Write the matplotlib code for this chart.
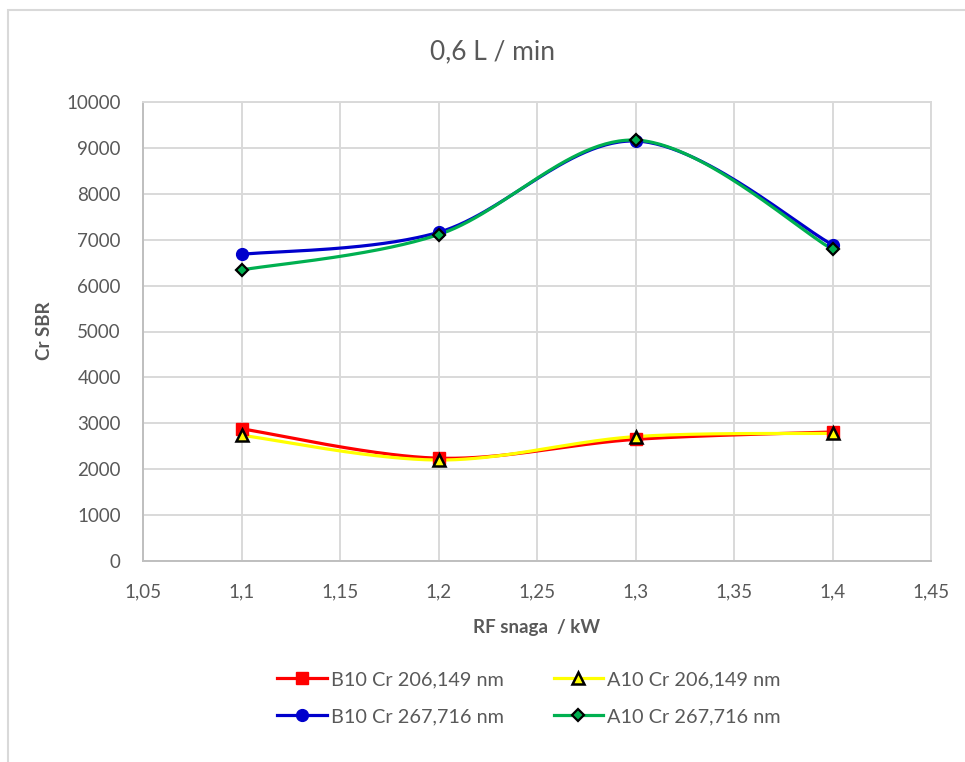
import numpy as np
import matplotlib
matplotlib.use("Agg")
import matplotlib.pyplot as plt
from matplotlib.ticker import FuncFormatter, MultipleLocator
from matplotlib.patches import Rectangle

plt.rcParams['font.family'] = ['Lato', 'DejaVu Sans']

# ---- data ----
rf_power = [1.1, 1.2, 1.3, 1.4]
b10_206 = [2880, 2240, 2650, 2810]
a10_206 = [2740, 2200, 2710, 2780]
b10_267 = [6680, 7160, 9150, 6890]
a10_267 = [6340, 7110, 9170, 6790]
series_labels = ["B10 Cr 206,149 nm", "A10 Cr 206,149 nm",
                 "B10 Cr 267,716 nm", "A10 Cr 267,716 nm"]
title = "0,6 L / min"
xlabel = "RF snaga  / kW"
ylabel = "Cr SBR"


def smooth(x, y, n=60):
    """Excel-like smoothed line (Catmull-Rom style cubic Bezier)."""
    x = np.asarray(x, float)
    y = np.asarray(y, float)
    P = np.column_stack([x, y])
    Pe = np.vstack([P[0], P, P[-1]])
    out = []
    t = np.linspace(0, 1, n)[:, None]
    for i in range(len(P) - 1):
        p0 = Pe[i + 1]
        p3 = Pe[i + 2]
        c1 = p0 + (Pe[i + 2] - Pe[i]) / 6.0
        c2 = p3 - (Pe[i + 3] - Pe[i + 1]) / 6.0
        seg = ((1 - t) ** 3) * p0 + 3 * ((1 - t) ** 2) * t * c1 + 3 * (1 - t) * t ** 2 * c2 + t ** 3 * p3
        out.append(seg if i == 0 else seg[1:])
    s = np.vstack(out)
    return s[:, 0], s[:, 1]


W, H = 965, 762
fig = plt.figure(figsize=(W / 100, H / 100), dpi=100)
fig.patch.set_facecolor('white')

# chart-area border (top and left visible)
fig.add_artist(Rectangle((8 / W, -0.1), 1.2, (1 - 10 / H) + 0.1, transform=fig.transFigure,
                         fill=False, edgecolor='#D9D9D9', linewidth=1.5))

left, right, top, bottom = 143, 931, 102, 561
ax = fig.add_axes([left / W, 1 - bottom / H, (right - left) / W, (bottom - top) / H])

gray_text = '#595959'
grid_c = '#D9D9D9'

ax.set_xlim(1.05, 1.45)
ax.set_ylim(0, 10000)
ax.xaxis.set_major_locator(MultipleLocator(0.05))
ax.yaxis.set_major_locator(MultipleLocator(1000))
ax.xaxis.set_major_formatter(FuncFormatter(lambda v, p: (f"{v:.2f}".rstrip('0').rstrip('.')).replace('.', ',')))
ax.yaxis.set_major_formatter(FuncFormatter(lambda v, p: f"{v:.0f}"))
ax.grid(True, color=grid_c, linewidth=1.4)
ax.set_axisbelow(True)
for s in ax.spines.values():
    s.set_color(grid_c)
    s.set_linewidth(1.4)
ax.spines['left'].set_color('#BFBFBF')
ax.spines['bottom'].set_color('#BFBFBF')
ax.tick_params(length=0, labelsize=13.5, labelcolor=gray_text)
ax.tick_params(axis='y', pad=16)
ax.tick_params(axis='x', pad=16)

styles = [
    dict(color='#FF0000', marker='s', mfc='#FF0000', mec='#FF0000', ms=8.5, mew=1),
    dict(color='#FFFF00', marker='^', mfc='#FFFF00', mec='#000000', ms=8.5, mew=1.8),
    dict(color='#0000CC', marker='o', mfc='#0000CC', mec='#0000CC', ms=8.5, mew=1),
    dict(color='#00B050', marker='D', mfc='#00B050', mec='#000000', ms=6.5, mew=1.6),
]
all_series = [b10_206, a10_206, b10_267, a10_267]
handles = []
for yv, st, lab in zip(all_series, styles, series_labels):
    sx, sy = smooth(rf_power, yv)
    ax.plot(sx, sy, color=st['color'], lw=2.3, solid_capstyle='round', zorder=3)
    ax.plot(rf_power, yv, ls='none', marker=st['marker'], mfc=st['mfc'], mec=st['mec'],
            ms=st['ms'], mew=st['mew'], zorder=4)
    h, = ax.plot([], [], color=st['color'], lw=2.3, marker=st['marker'], mfc=st['mfc'],
                 mec=st['mec'], ms=st['ms'], mew=st['mew'], label=lab)
    handles.append(h)

fig.text(492 / W, 1 - 52 / H, title, ha='center', va='center', fontsize=19, color=gray_text)
fig.text(537 / W, 1 - 627 / H, xlabel, ha='center', va='center', fontsize=13.5,
         fontweight='bold', color=gray_text)
fig.text(45 / W, 1 - 331 / H, ylabel, ha='center', va='center', rotation=90, fontsize=13.5,
         fontweight='bold', color=gray_text)

# row-wise ordering: (B10 206, A10 206) / (B10 267, A10 267)
order = [0, 2, 1, 3]
leg = fig.legend(handles=[handles[i] for i in order], ncol=2, loc='center',
                 bbox_to_anchor=(529 / W, 1 - 698 / H),
                 frameon=False, fontsize=14.3, handlelength=2.5, handletextpad=0.2,
                 columnspacing=2.5, labelspacing=1.0)
for t in leg.get_texts():
    t.set_color(gray_text)

fig.savefig('out.png', dpi=100, facecolor='white')
